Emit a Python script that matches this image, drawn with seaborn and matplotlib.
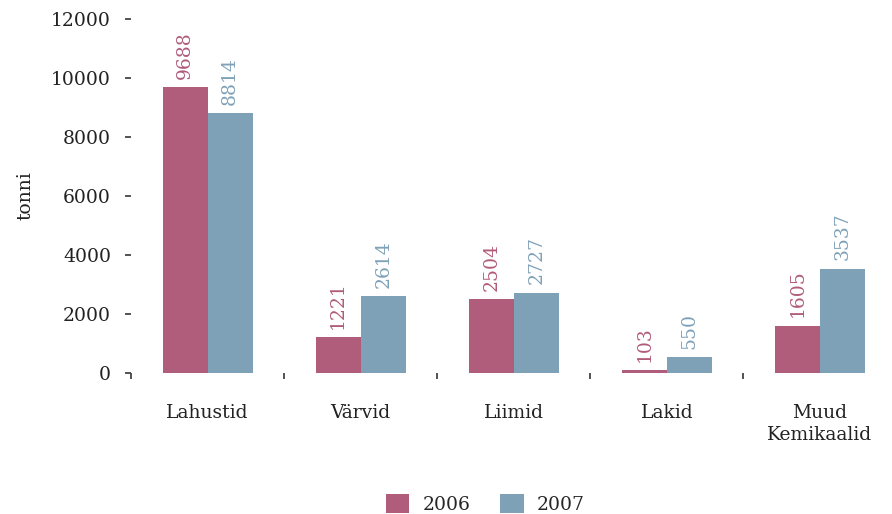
import pandas as pd
import matplotlib.pyplot as plt
import seaborn as sns

# --- data ---
categories = ['Lahustid', 'Värvid', 'Liimid', 'Lakid', 'Muud\nKemikaalid']
years = ['2006', '2007']
values_2006 = [9688, 1221, 2504, 103, 1605]
values_2007 = [8814, 2614, 2727, 550, 3537]
colors = ['#B05C7B', '#7FA1B8']

df = pd.DataFrame({
    'kategooria': categories * 2,
    'aasta': [years[0]] * len(categories) + [years[1]] * len(categories),
    'tonni': values_2006 + values_2007,
})

sns.set_style('white')
plt.rcParams['font.family'] = ['DejaVu Serif']
fs = 13.5

fig = plt.figure(figsize=(8.92, 5.14), dpi=100)
ax = fig.add_axes([0.147, 0.274, 0.858, 0.689])

sns.barplot(data=df, x='kategooria', y='tonni', hue='aasta', palette=colors,
            width=0.59, saturation=1, linewidth=0, ax=ax, legend=True)

# value labels above bars
for container, col in zip(ax.containers, colors):
    for bar in container:
        h = bar.get_height()
        ax.annotate(f'{int(round(h))}', (bar.get_x() + bar.get_width() / 2, h),
                    xytext=(0, 6), textcoords='offset points', rotation=90,
                    ha='center', va='bottom', color=col, fontsize=fs)

ax.set_xlim(-0.5, 4.5)
ax.set_ylim(0, 12000)
ax.set_yticks(range(0, 12001, 2000))
for s in ax.spines.values():
    s.set_visible(False)

ax.set_xticks(range(len(categories)))
ax.set_xticklabels(categories, fontsize=fs, linespacing=1.3)
ax.set_xticks([-0.5, 0.5, 1.5, 2.5, 3.5], minor=True)
ax.tick_params(axis='x', which='major', bottom=True, length=0, pad=22, colors='#222222')
ax.tick_params(axis='x', which='minor', bottom=True, length=4, width=1.3,
               color='#444444', direction='out')
ax.tick_params(axis='y', left=True, length=4.5, width=1.3, color='#444444', direction='out',
               labelsize=fs, labelcolor='#222222', pad=10)

ax.set_xlabel('')
ax.set_ylabel('tonni', fontsize=fs, labelpad=12, color='#222222')

handles, labels = ax.get_legend_handles_labels()
ax.legend(handles, labels, loc='lower center', bbox_to_anchor=(0.463, -0.445), ncol=2,
          frameon=False, fontsize=fs, handlelength=1.25, handleheight=1.25,
          columnspacing=1.6, handletextpad=0.7)

fig.savefig('out.png', dpi=100)
